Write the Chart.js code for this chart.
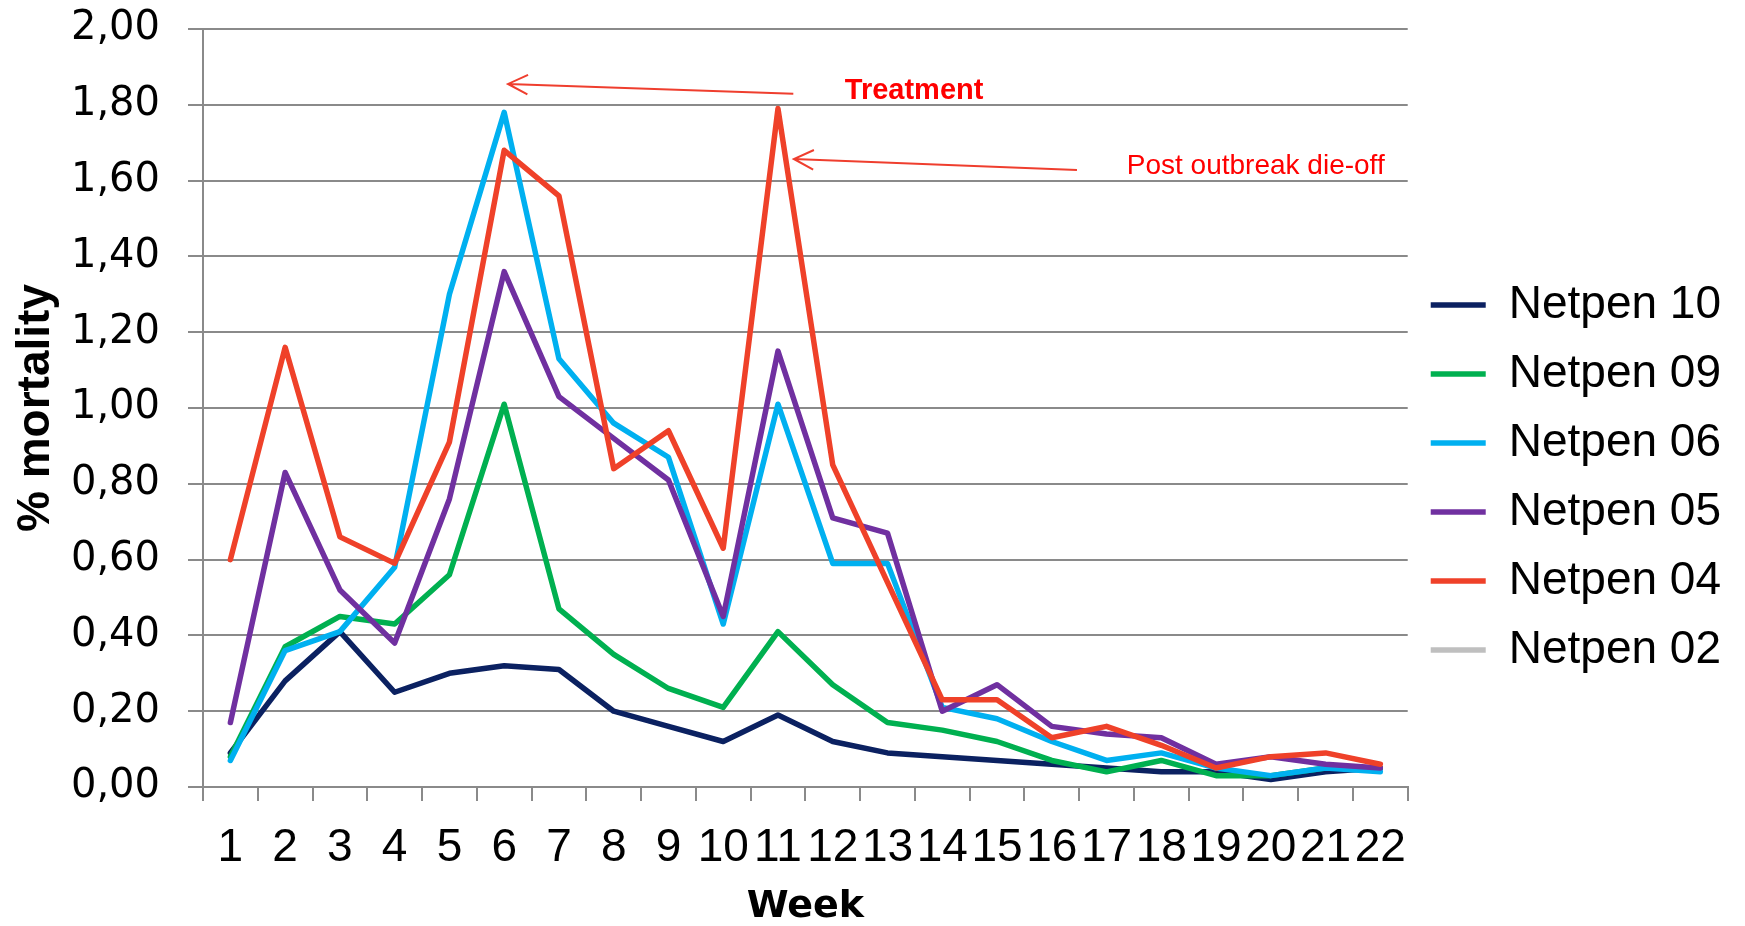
<!DOCTYPE html>
<html>
<head>
<meta charset="utf-8">
<script src="https://cdn.jsdelivr.net/npm/chart.js@4/dist/chart.umd.min.js"></script>
<style>
  html, body { margin: 0; padding: 0; background: #fff; }
  #wrap { width: 1745px; height: 926px; position: relative; }
</style>
</head>
<body>
<div id="wrap"><canvas id="myChart"></canvas></div>
<script>
// weekly % mortality per net pen
const weeks = ['1', '2', '3', '4', '5', '6', '7', '8', '9', '10', '11',
    '12', '13', '14', '15', '16', '17', '18', '19', '20', '21', '22'];

const netpen10 = [0.09, 0.28, 0.41, 0.25, 0.30, 0.32, 0.31, 0.20, 0.16, 0.12, 0.19,
    0.12, 0.09, 0.08, 0.07, 0.06, 0.05, 0.04, 0.04, 0.02, 0.04, 0.05];
const netpen09 = [0.08, 0.37, 0.45, 0.43, 0.56, 1.01, 0.47, 0.35, 0.26, 0.21, 0.41,
    0.27, 0.17, 0.15, 0.12, 0.07, 0.04, 0.07, 0.03, 0.03, 0.05, 0.05];
const netpen06 = [0.07, 0.36, 0.41, 0.58, 1.30, 1.78, 1.13, 0.96, 0.87, 0.43, 1.01,
    0.59, 0.59, 0.21, 0.18, 0.12, 0.07, 0.09, 0.05, 0.03, 0.05, 0.04];
const netpen05 = [0.17, 0.83, 0.52, 0.38, 0.76, 1.36, 1.03, 0.92, 0.81, 0.45, 1.15,
    0.71, 0.67, 0.20, 0.27, 0.16, 0.14, 0.13, 0.06, 0.08, 0.06, 0.05];
const netpen04 = [0.60, 1.16, 0.66, 0.59, 0.91, 1.68, 1.56, 0.84, 0.94, 0.63, 1.79,
    0.85, 0.54, 0.23, 0.23, 0.13, 0.16, 0.11, 0.05, 0.08, 0.09, 0.06];
const netpen02 = [];   // only shows up in the legend

// annotations, in data units (category index, % mortality)
const arrows = [
    { from: [10.28, 1.829], to: [5.07, 1.855] },
    { from: [15.46, 1.628], to: [10.29, 1.657] }
];
const notes = [
    { text: 'Treatment', x: 11.22, y: 1.816, bold: true },
    { text: 'Post outbreak die-off', x: 16.37, y: 1.618, bold: false }
];

const ARIAL = "'Liberation Sans', Arial, sans-serif";
const GRID = '#8a8a8a';

const annotate = {
    id: 'annotate',
    afterDatasetsDraw(chart) {
        const { ctx, scales: { x, y } } = chart;
        ctx.save();
        ctx.strokeStyle = '#ef3e2e';
        ctx.lineWidth = 2;
        arrows.forEach(a => {
            const x1 = x.getPixelForValue(a.from[0]), y1 = y.getPixelForValue(a.from[1]);
            const x2 = x.getPixelForValue(a.to[0]), y2 = y.getPixelForValue(a.to[1]);
            const ang = Math.atan2(y2 - y1, x2 - x1);
            ctx.beginPath();
            ctx.moveTo(x1, y1);
            ctx.lineTo(x2, y2);
            ctx.moveTo(x2 - 22 * Math.cos(ang - 0.46), y2 - 22 * Math.sin(ang - 0.46));
            ctx.lineTo(x2, y2);
            ctx.lineTo(x2 - 22 * Math.cos(ang + 0.46), y2 - 22 * Math.sin(ang + 0.46));
            ctx.stroke();
        });
        ctx.fillStyle = '#ff0000';
        ctx.textBaseline = 'alphabetic';
        notes.forEach(n => {
            ctx.font = (n.bold ? 'bold 29px ' : '28px ') + ARIAL;
            ctx.fillText(n.text, x.getPixelForValue(n.x), y.getPixelForValue(n.y));
        });
        ctx.restore();
    }
};

function line(label, data, color, order) {
    return {
        label: label,
        data: data,
        borderColor: color,
        backgroundColor: color,
        borderWidth: 5.5,
        pointRadius: 0,
        tension: 0,
        borderJoinStyle: 'round',
        borderCapStyle: 'round',
        order: order
    };
}

var ctx = document.getElementById('myChart');

var myChart = new Chart(ctx, { // eslint-disable-line
    type: 'line',
    data: {
        labels: weeks,
        datasets: [
            line('Netpen 10', netpen10, '#0b2161', 5),
            line('Netpen 09', netpen09, '#00b050', 4),
            line('Netpen 06', netpen06, '#00b0f0', 3),
            line('Netpen 05', netpen05, '#7030a0', 2),
            line('Netpen 04', netpen04, '#ef4129', 1),
            line('Netpen 02', netpen02, '#bfbfbf', 0)
        ]
    },
    options: {
        responsive: true,
        maintainAspectRatio: false,
        animation: false,
        layout: { padding: { top: 29, right: 14, bottom: 0, left: 0 } },
        plugins: {
            tooltip: { enabled: false },
            legend: {
                position: 'right',
                labels: {
                    usePointStyle: true,
                    pointStyle: 'line',
                    pointStyleWidth: 55,
                    padding: 23,
                    color: '#000',
                    font: { family: ARIAL, size: 46 },
                    sort: (a, b) => a.datasetIndex - b.datasetIndex
                }
            }
        },
        scales: {
            x: {
                offset: true,
                grid: {
                    offset: true,
                    drawOnChartArea: false,
                    drawTicks: true,
                    tickLength: 14,
                    color: GRID,
                    lineWidth: 2
                },
                border: { color: GRID, width: 2 },
                ticks: {
                    autoSkip: false,
                    maxRotation: 0,
                    padding: 20,
                    color: '#000',
                    font: { family: ARIAL, size: 46 }
                },
                title: {
                    display: true,
                    text: 'Week',
                    color: '#000',
                    padding: { top: 0, bottom: 0 },
                    font: { family: "'DejaVu Sans', sans-serif", size: 38, weight: 'bold', lineHeight: 1 }
                },
                afterFit(scale) { scale.height = 139; }
            },
            y: {
                min: 0,
                max: 2,
                grid: {
                    color: GRID,
                    lineWidth: 2,
                    tickLength: 15
                },
                border: { color: GRID, width: 2 },
                ticks: {
                    stepSize: 0.2,
                    padding: 28,
                    color: '#000',
                    font: { family: "'DejaVu Sans', sans-serif", size: 40 },
                    callback: (v) => v.toFixed(2).replace('.', ',')
                },
                title: {
                    display: true,
                    text: '% mortality',
                    color: '#000',
                    padding: { top: 9, bottom: 0 },
                    font: { family: ARIAL, size: 46, weight: 'bold' }
                },
                afterFit(scale) {
                    scale.width = 203;
                    // the layout padding already leaves room for the top label
                    scale.paddingTop = 0;
                    scale.paddingBottom = 0;
                }
            }
        }
    },
    plugins: [annotate]
});
</script>
</body>
</html>
